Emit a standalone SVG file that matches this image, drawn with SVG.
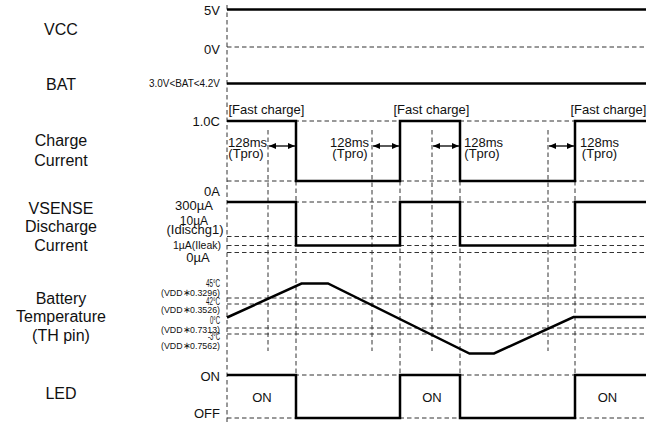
<svg xmlns="http://www.w3.org/2000/svg" width="656" height="423" viewBox="0 0 656 423">
<style>
text{font-family:"Liberation Sans",Arial,Helvetica,sans-serif;fill:#111}
.lbl{font-size:16px;text-anchor:middle}
.ax{font-size:13px;text-anchor:end}
.axc{text-anchor:middle}
.t13{font-size:13px}
.tmp{font-size:9.5px;text-anchor:end}
.deg{font-size:10px;text-anchor:end}
.dash{stroke:#333;stroke-width:1;stroke-dasharray:4.5 3;fill:none}
.sig{stroke:#000;stroke-width:2.5;fill:none;stroke-linejoin:miter}
.arr{stroke:#000;stroke-width:1.3;fill:none;marker-start:url(#ah);marker-end:url(#ah)}
</style>
<defs>
<marker id="ah" viewBox="0 0 7 6" refX="7" refY="3" markerWidth="7" markerHeight="6" markerUnits="userSpaceOnUse" orient="auto-start-reverse">
<path d="M0,0 L7,3 L0,6 z" fill="#000"/>
</marker>
</defs>
<rect width="656" height="423" fill="#fff"/>

<g id="row-labels">
<text class="lbl" x="61" y="34.5">VCC</text>
<text class="lbl" x="61" y="90">BAT</text>
<text class="lbl" x="61" y="146">Charge</text>
<text class="lbl" x="61" y="166">Current</text>
<text class="lbl" x="61" y="214">VSENSE</text>
<text class="lbl" x="61" y="232">Discharge</text>
<text class="lbl" x="61" y="250.5">Current</text>
<text class="lbl" x="61" y="303.5">Battery</text>
<text class="lbl" x="61" y="322">Temperature</text>
<text class="lbl" x="61" y="340.5">(TH pin)</text>
<text class="lbl" x="61" y="398.5">LED</text>
</g>

<g id="grid">
<path class="dash" d="M227,5 V423"/>
<path class="dash" d="M227,47 H646 M227,121 H646 M227,181 H646 M227,202 H646 M227,236.5 H646 M227,245.5 H646 M227,252.5 H646 M227,298 H646 M227,304 H646 M227,328 H646 M227,334 H646 M227,375 H646 M227,418 H646"/>
<path class="dash" d="M268,130 V351 M372,130 V351 M432,130 V351 M548,130 V351"/>
<path class="dash" d="M296,121 V418 M400,121 V418 M460,121 V418 M575,121 V418"/>
</g>

<g id="vcc">
<text class="ax" x="220" y="15">5V</text>
<text class="ax" x="220" y="54">0V</text>
<path class="sig" d="M227,9.5 H646"/>
</g>

<g id="bat">
<text x="220" y="87" font-size="11" text-anchor="end" textLength="71" lengthAdjust="spacingAndGlyphs">3.0V&lt;BAT&lt;4.2V</text>
<path class="sig" d="M227,83.5 H646"/>
</g>

<g id="charge-current">
<text class="t13" x="228.5" y="114">[Fast charge]</text>
<text class="t13" x="393.5" y="114">[Fast charge]</text>
<text class="t13" x="570.5" y="114">[Fast charge]</text>
<text class="ax" x="220" y="126">1.0C</text>
<text class="ax" x="220" y="196">0A</text>
<path class="sig" d="M227,121 H296 V181 H400 V121 H460 V181 H575 V121 H646"/>
<g class="t13" text-anchor="middle">
<text x="247.5" y="146.5">128ms</text><text x="246" y="158">(Tpro)</text>
<text x="349.5" y="146.5">128ms</text><text x="350" y="158">(Tpro)</text>
<text x="483.5" y="146.5">128ms</text><text x="482" y="158">(Tpro)</text>
<text x="599.5" y="146.5">128ms</text><text x="599.5" y="158">(Tpro)</text>
</g>
</g>

<g id="vsense">
<text class="t13 axc" x="194" y="210">300µA</text>
<text class="axc" x="194" y="225" font-size="12">10µA</text>
<text class="axc" x="195" y="233.5" font-size="12" textLength="57" lengthAdjust="spacingAndGlyphs">(Idischg1)</text>
<text class="axc" x="197" y="248.5" font-size="11" textLength="48" lengthAdjust="spacingAndGlyphs">1µA(Ileak)</text>
<text class="t13 axc" x="198" y="262">0µA</text>
<path class="sig" d="M227,202 H296 V245.5 H400 V202 H460 V245.5 H575 V202 H646"/>
</g>

<g id="battery-temperature">
<text class="deg" x="220" y="286.5" textLength="14" lengthAdjust="spacingAndGlyphs">45°C</text>
<text class="tmp" x="220" y="295.5" textLength="59" lengthAdjust="spacingAndGlyphs">(VDD∗0.3296)</text>
<text class="deg" x="220" y="304.5" textLength="14" lengthAdjust="spacingAndGlyphs">42°C</text>
<text class="tmp" x="220" y="313" textLength="59" lengthAdjust="spacingAndGlyphs">(VDD∗0.3526)</text>
<text class="deg" x="220" y="324" textLength="10" lengthAdjust="spacingAndGlyphs">0°C</text>
<text class="tmp" x="220" y="333" textLength="59" lengthAdjust="spacingAndGlyphs">(VDD∗0.7313)</text>
<text class="deg" x="220" y="340" textLength="12" lengthAdjust="spacingAndGlyphs">-3°C</text>
<text class="tmp" x="220" y="348.5" textLength="59" lengthAdjust="spacingAndGlyphs">(VDD∗0.7562)</text>
<path class="sig" d="M227,317.5 L301.5,283.5 H328 L469.5,353.5 H494 L573.5,317 H646"/>
</g>

<g id="led">
<text class="ax" x="220" y="380.5">ON</text>
<text class="ax" x="220" y="418">OFF</text>
<path class="sig" d="M227,375 H296 V418 H400 V375 H460 V418 H575 V375 H646"/>
<g class="t13" text-anchor="middle">
<text x="262" y="401.5">ON</text>
<text x="432" y="401.5">ON</text>
<text x="607.5" y="401.5">ON</text>
</g>
</g>

<g id="connectors">
<path class="arr" d="M269,146 H295"/>
<path class="arr" d="M373,146 H399"/>
<path class="arr" d="M433,146 H459"/>
<path class="arr" d="M549,146 H574"/>
</g>
</svg>
